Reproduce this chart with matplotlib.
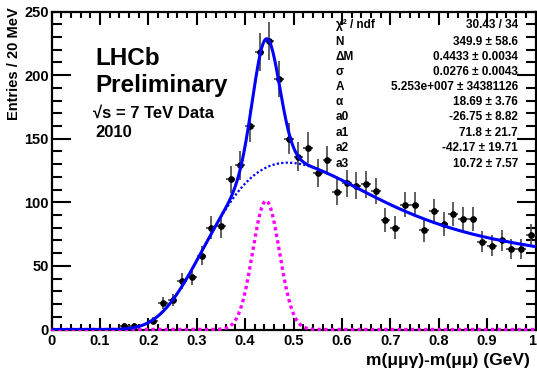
import matplotlib
matplotlib.use('Agg')
import matplotlib.pyplot as plt
import matplotlib.transforms as mtransforms
import numpy as np

plt.rcParams['font.family'] = ['Liberation Sans', 'DejaVu Sans']
plt.rcParams['font.weight'] = 'bold'

# data: 20 MeV bins, centres in GeV
xdata = [0.15, 0.17, 0.21, 0.23, 0.25, 0.27, 0.29, 0.31, 0.33, 0.35,
         0.37, 0.39, 0.41, 0.43, 0.45, 0.47, 0.49, 0.51, 0.53, 0.55,
         0.57, 0.59, 0.61, 0.63, 0.65, 0.67, 0.69, 0.71, 0.73, 0.75,
         0.77, 0.79, 0.81, 0.83, 0.85, 0.87, 0.89, 0.91, 0.93, 0.95,
         0.97, 0.99]
ydata = [3, 3, 7, 21, 23, 38, 41, 58, 80, 81,
         118, 129, 160, 218, 227, 197, 150, 136, 143, 123,
         133, 108, 115, 113, 114, 109, 86, 80, 98, 98,
         78, 93, 83, 91, 87, 87, 69, 66, 70, 63,
         63, 74]

# fit parameters as printed in the stats box
N = 349.9
dM = 0.4433
sigma = 0.0276
A = 5.253e7
alpha = 18.69
a0, a1, a2, a3 = -26.75, 71.8, -42.17, 10.72
binw = 0.02

stat_labels = ['χ² / ndf', 'N', 'ΔM', 'σ', 'A', 'α', 'a0', 'a1', 'a2', 'a3']
stat_values = ['30.43 / 34', '349.9 ± 58.6', '0.4433 ± 0.0034',
               '0.0276 ± 0.0043', '5.253e+007 ± 34381126',
               '18.69 ± 3.76', '-26.75 ± 8.82', '71.8 ± 21.7',
               '-42.17 ± 19.71', '10.72 ± 7.57']

xd = np.array(xdata)
yd = np.array(ydata, dtype=float)

xx = np.linspace(0.0, 1.0, 600)
sig = N*binw/(np.sqrt(2*np.pi)*sigma)*np.exp(-0.5*((xx-dM)/sigma)**2)
bkg = A*xx**alpha*np.exp(-(a0 + a1*xx + a2*xx**2 + a3*xx**3))
tot = sig + bkg

fig = plt.figure(figsize=(5.37, 3.72), dpi=100)
ax = fig.add_axes([51.5/537, 42.5/372, 484/537, 318/372])

ax.errorbar(xd, yd, yerr=np.sqrt(yd), xerr=binw/2, fmt='o', color='k',
            ecolor='#444444', elinewidth=1.2, markersize=3.8, capsize=0, zorder=3)
ax.plot(xx, bkg, color='#0000ff', linestyle=(0, (1, 1)), linewidth=1.6, zorder=4)
ax.plot(xx, sig, color='#ff00ff', linestyle=(0, (1, 1)), linewidth=2.4, zorder=5,
        clip_on=False)
ax.plot(xx, tot, color='#0000ff', linewidth=2.2, zorder=6)

ax.set_xlim(0, 1)
ax.set_ylim(0, 250)
ax.set_xticks(np.arange(0, 1.01, 0.1))
ax.set_xticklabels(['0', '0.1', '0.2', '0.3', '0.4', '0.5', '0.6', '0.7', '0.8', '0.9', '1'])
ax.set_xticks(np.arange(0, 1.001, 0.02), minor=True)
ax.set_yticks(np.arange(0, 251, 50))
ax.set_yticks(np.arange(0, 251, 10), minor=True)
ax.tick_params(which='both', direction='in', top=True, right=True, width=1.5,
               labelsize=10.5)
ax.tick_params(axis='y', which='major', length=14)
ax.tick_params(axis='y', which='minor', length=7)
ax.tick_params(axis='x', which='major', length=9)
ax.tick_params(axis='x', which='minor', length=4.5)
ax.tick_params(axis='x', pad=3)
ax.tick_params(axis='y', pad=2)
for s in ax.spines.values():
    s.set_linewidth(1.6)

# nudge the last "1" label so it stays inside the image
last = ax.get_xticklabels()[-1]
last.set_transform(last.get_transform() +
                   mtransforms.ScaledTranslation(-3/100, 0, fig.dpi_scale_trans))

fig.text(14/537, 1-7/372, 'Entries / 20 MeV', rotation=90, ha='center', va='top',
         fontsize=10.5, fontweight='bold')
fig.text(530/537, 1-365/372, 'm(μμγ)-m(μμ) (GeV)', ha='right',
         va='baseline', fontsize=12.5, fontweight='bold')

fig.text(95/537, 1-65/372, 'LHCb', fontsize=17.5, fontweight='bold', va='baseline')
fig.text(95/537, 1-91.7/372, 'Preliminary', fontsize=17.5, fontweight='bold', va='baseline')
fig.text(93/537, 1-118/372, '√s = 7 TeV Data', fontsize=12, fontweight='bold',
         va='baseline')
fig.text(95/537, 1-136.7/372, '2010', fontsize=12, fontweight='bold', va='baseline')

rows = [25, 41.7, 56.7, 71.7, 87.3, 102.3, 117.3, 133.3, 148.3, 164]
for lab, val, py in zip(stat_labels, stat_values, rows):
    fig.text(335.7/537, 1-py/372, lab, fontsize=8.5, fontweight='bold', va='center', ha='left')
    fig.text(518/537, 1-py/372, val, fontsize=8.5, fontweight='bold', va='center', ha='right')

plt.savefig('out.png', dpi=100)
